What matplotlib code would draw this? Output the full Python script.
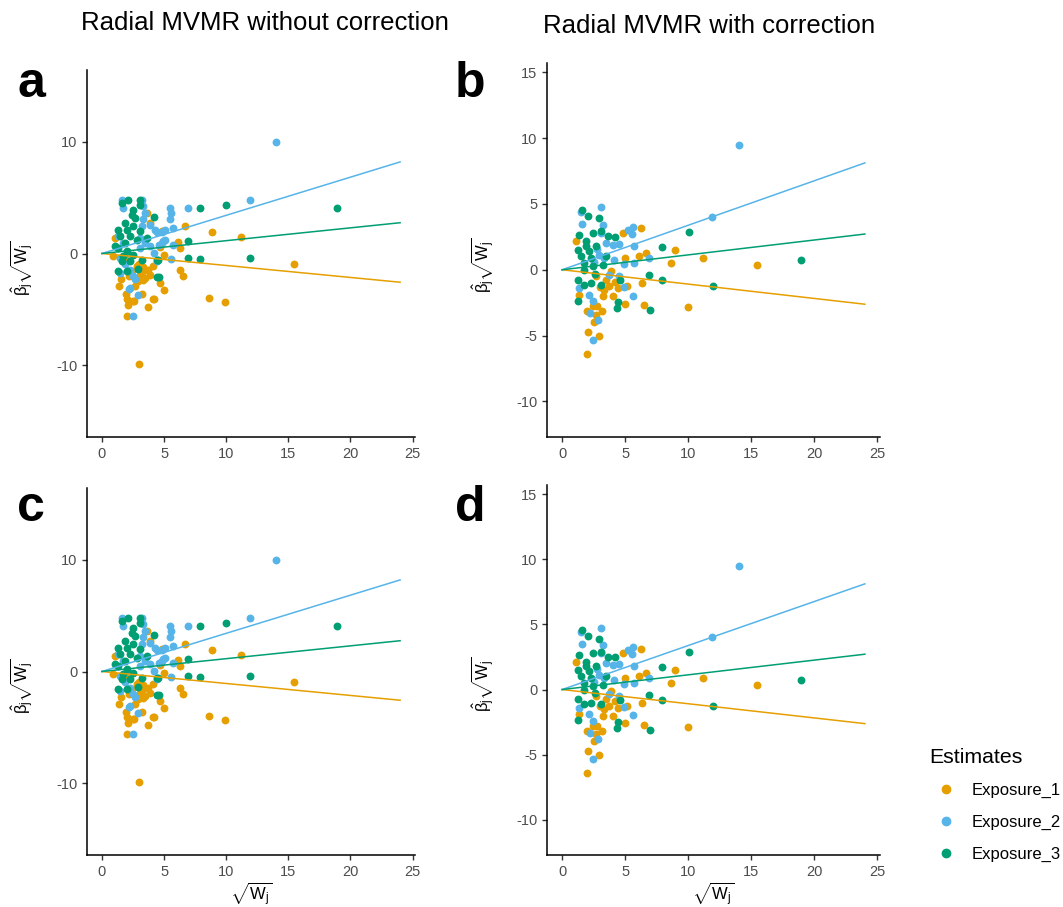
import matplotlib
matplotlib.use('Agg')
import matplotlib.pyplot as plt
import numpy as np
from matplotlib.lines import Line2D

plt.rcParams['font.family'] = ['Liberation Sans', 'DejaVu Sans']
plt.rcParams['mathtext.fontset'] = 'custom'
plt.rcParams['mathtext.rm'] = 'Liberation Sans'
plt.rcParams['mathtext.it'] = 'Liberation Sans'
plt.rcParams['mathtext.default'] = 'rm'
plt.rcParams['axes.unicode_minus'] = False

labels = ['Exposure_1', 'Exposure_2', 'Exposure_3']
colors = ['#E69F00', '#56B4E9', '#009E73']

# ---- without correction (panels a and c) ----
a_e1 = [(15.5, -0.92), (11.2, 1.5), (8.9, 1.9), (9.9, -4.3), (8.6, -4.0), (2.95, -9.9), (6.7, 2.5),
        (6.1, 1.0), (6.3, 0.45), (6.3, -1.5), (6.5, -2.05), (4.7, -2.65), (5.0, -3.25), (4.2, -4.1),
        (3.7, -4.8), (4.8, 2.0), (5.0, -0.1), (4.7, 0.6), (2.0, -5.6), (2.1, -4.6), (2.0, -4.1),
        (1.9, -3.66), (2.6, -4.26), (1.37, -2.9), (1.5, -2.3), (3.3, -2.4), (3.2, -3.66),
        (1.05, 1.4), (0.91, -0.24), (1.98, -0.54), (2.79, -1.13), (3.32, -1.58), (3.73, -1.43),
        (3.06, -1.88), (3.46, -2.17), (3.86, -1.88), (2.92, -2.47), (2.65, -2.92), (2.52, -4.26),
        (4.13, -4.1), (3.59, 3.63), (3.86, 2.74), (3.32, -1.19), (4.13, -1.13), (2.4, -1.6),
        (3.0, -0.9), (2.2, -2.0)]
a_e2 = [(14.0, 9.94), (11.9, 4.8), (6.9, 4.05), (5.5, 4.1), (5.6, 3.6), (5.5, 3.07), (5.7, 2.3),
        (5.1, 2.1), (5.6, -0.48), (5.7, 0.75), (4.45, 1.96), (4.9, 1.1), (4.6, 0.8), (4.2, 0.03),
        (4.4, -0.65), (2.9, -3.75), (2.5, -5.6), (2.2, -3.15), (1.58, 4.76), (1.66, 4.08),
        (3.19, 4.82), (3.32, 4.23), (3.46, 3.63), (3.32, 3.04), (3.19, 2.44), (3.86, 2.59),
        (4.26, 2.14), (4.8, 1.9), (3.06, 1.4), (3.46, 0.95), (3.86, 0.65), (3.06, 0.5), (4.8, 0.95),
        (5.07, 1.25), (1.72, 0.95), (1.31, 1.55), (1.98, 0.06), (1.45, -0.39), (2.25, -1.43),
        (2.52, -2.0), (2.25, -3.07), (2.65, -2.3), (1.85, -0.98), (1.45, -1.73)]
a_e3 = [(18.9, 4.05), (10.0, 4.3), (7.9, 4.1), (11.9, -0.36), (6.9, 1.16), (6.9, -0.44), (7.9, -0.53),
        (4.2, 3.25), (4.4, -2.1), (4.6, -2.1), (4.4, -0.6), (2.12, 4.76), (3.08, 4.82), (1.58, 4.52),
        (3.08, 4.29), (2.52, 3.93), (2.39, 3.48), (2.65, 3.18), (1.85, 2.74), (1.31, 2.14),
        (1.98, 2.14), (2.52, 2.44), (3.06, 1.99), (1.45, 1.55), (2.25, 1.55), (2.79, 1.25),
        (1.85, 0.95), (1.31, 0.5), (1.98, 0.2), (2.52, -0.09), (1.58, -0.68), (2.25, -0.68),
        (1.31, -1.58), (1.98, -1.58), (2.92, -1.37), (3.59, 1.4), (4.53, -0.54), (1.05, 0.65),
        (1.72, -0.24), (3.19, -0.54)]
a_slopes = [-0.107, 0.341, 0.1146]

# ---- with correction (panels b and d) ----
b_e1 = [(15.45, 0.33), (9.95, -2.86), (11.16, 0.91), (8.92, 1.47), (8.6, 0.48), (6.27, 3.14),
        (6.64, 1.24), (6.11, 1.01), (6.32, -1.01), (6.51, -2.71), (5.0, -2.6), (2.01, -6.39),
        (2.09, -4.69), (2.96, -5.02), (4.79, 2.81), (4.95, 0.89), (5.13, -1.27), (1.08, 2.15),
        (1.35, -1.9), (2.01, -3.17), (2.54, -3.93), (2.8, -2.79), (2.41, -2.79), (3.33, -1.52),
        (3.73, -1.27), (4.39, -1.39), (2.67, -3.42), (3.15, -3.17), (3.47, -0.76), (3.86, -0.13),
        (4.0, -2.03), (3.2, -2.03), (2.67, -0.51), (4.2, -0.9), (3.0, -1.3)]
b_e2 = [(14.05, 9.46), (11.9, 4.03), (5.71, 1.8), (6.9, 0.91), (5.63, 3.24), (5.19, 3.04),
        (5.53, 2.74), (4.92, 0.43), (4.52, 1.95), (5.58, -1.98), (4.92, -1.34), (2.88, -3.8),
        (2.41, -5.32), (2.19, -3.3), (3.12, 4.74), (1.61, 3.5), (1.53, 4.39), (3.2, 3.42),
        (3.07, 2.79), (3.47, 2.03), (4.0, 1.9), (2.94, 1.14), (3.33, 0.89), (4.13, 0.76),
        (5.71, 0.51), (1.35, -1.39), (2.14, -1.9), (2.41, -2.41), (4.52, -0.51), (3.73, -0.38),
        (2.8, 1.6), (2.5, 0.6)]
b_e3 = [(18.94, 0.71), (10.05, 2.86), (7.91, 1.7), (6.9, -0.43), (7.88, -0.79), (11.93, -1.24),
        (6.96, -3.07), (4.31, -2.92), (4.44, -2.48), (4.58, -0.79), (1.56, 4.56), (2.09, 4.11),
        (2.94, 3.9), (1.22, -2.36), (4.21, 2.48), (3.6, 2.53), (1.35, 2.66), (2.41, 2.79),
        (3.07, 2.92), (1.88, 2.15), (1.22, 1.52), (2.14, 1.39), (2.67, 1.77), (1.48, 1.01),
        (2.28, 0.89), (1.75, 0.51), (2.41, 0.25), (3.2, 0.38), (1.22, -0.76), (1.75, -1.14),
        (2.28, -1.01), (3.07, -1.14), (3.47, 1.01), (1.75, 0.0), (1.9, 1.8), (2.6, -0.3)]
b_slopes = [-0.109, 0.338, 0.113]

W, H = 1063, 907
fig = plt.figure(figsize=(W / 100, H / 100), dpi=100)


def px_axes(l, t, r, b):
    return fig.add_axes([l / W, 1 - b / H, (r - l) / W, (b - t) / H])


def draw(ax, series, slopes, ylim, yticks, xlabel):
    for pts, col in zip(series, colors):
        pts = np.array(pts)
        ax.scatter(pts[:, 0], pts[:, 1], s=32, color=col, linewidths=0, zorder=2)
    xl = np.array([0, 24])
    for sl, col in zip(slopes, colors):
        ax.plot(xl, sl * xl, color=col, lw=1.1, zorder=3)
    ax.set_xlim(-1.2, 25.2)
    ax.set_ylim(*ylim)
    ax.set_xticks([0, 5, 10, 15, 20, 25])
    ax.set_yticks(yticks)
    for s in ['top', 'right']:
        ax.spines[s].set_visible(False)
    for s in ['left', 'bottom']:
        ax.spines[s].set_linewidth(1.1)
    ax.tick_params(length=3.5, width=1.0, colors='#333333', labelcolor='#4D4D4D', labelsize=10.5)
    ax.set_ylabel(r'$\hat{\beta}_j\sqrt{W_j}$', fontsize=12, labelpad=6)
    ax.yaxis.set_label_coords(-0.155, 0.46)
    if xlabel:
        ax.set_xlabel(r'$\sqrt{W_j}$', fontsize=12, labelpad=1)


ax_a = px_axes(87, 70, 415, 437)
ax_b = px_axes(547, 63, 880, 437)
ax_c = px_axes(87, 488, 415, 855)
ax_d = px_axes(547, 485, 880, 855)

draw(ax_a, [a_e1, a_e2, a_e3], a_slopes, (-16.4, 16.4), [-10, 0, 10], False)
draw(ax_c, [a_e1, a_e2, a_e3], a_slopes, (-16.4, 16.4), [-10, 0, 10], True)
draw(ax_b, [b_e1, b_e2, b_e3], b_slopes, (-12.7, 15.7), [-10, -5, 0, 5, 10, 15], False)
draw(ax_d, [b_e1, b_e2, b_e3], b_slopes, (-12.7, 15.7), [-10, -5, 0, 5, 10, 15], True)
ax_b.yaxis.set_label_coords(-0.15, 0.46)
ax_d.yaxis.set_label_coords(-0.15, 0.46)

fig.text(265 / W, 1 - 23 / H, 'Radial MVMR without correction', ha='center', va='center', fontsize=18.5)
fig.text(709 / W, 1 - 26 / H, 'Radial MVMR with correction', ha='center', va='center', fontsize=18.5)

for lab, (x, y) in zip('abcd', [(31, 84), (470, 84), (31, 508), (470, 508)]):
    fig.text(x / W, 1 - y / H, lab, ha='center', va='center', fontsize=36, fontweight='bold')

handles = [Line2D([], [], marker='o', ls='', color=c, markersize=6) for c in colors]
leg = fig.legend(handles, labels, title='Estimates', loc='upper left',
                 bbox_to_anchor=(918 / W, 1 - 736 / H), frameon=False, fontsize=12,
                 title_fontsize=15.3, handletextpad=0.5, labelspacing=1.0, borderaxespad=0.3)
leg._legend_box.align = 'left'

fig.savefig('out.png', dpi=100)
